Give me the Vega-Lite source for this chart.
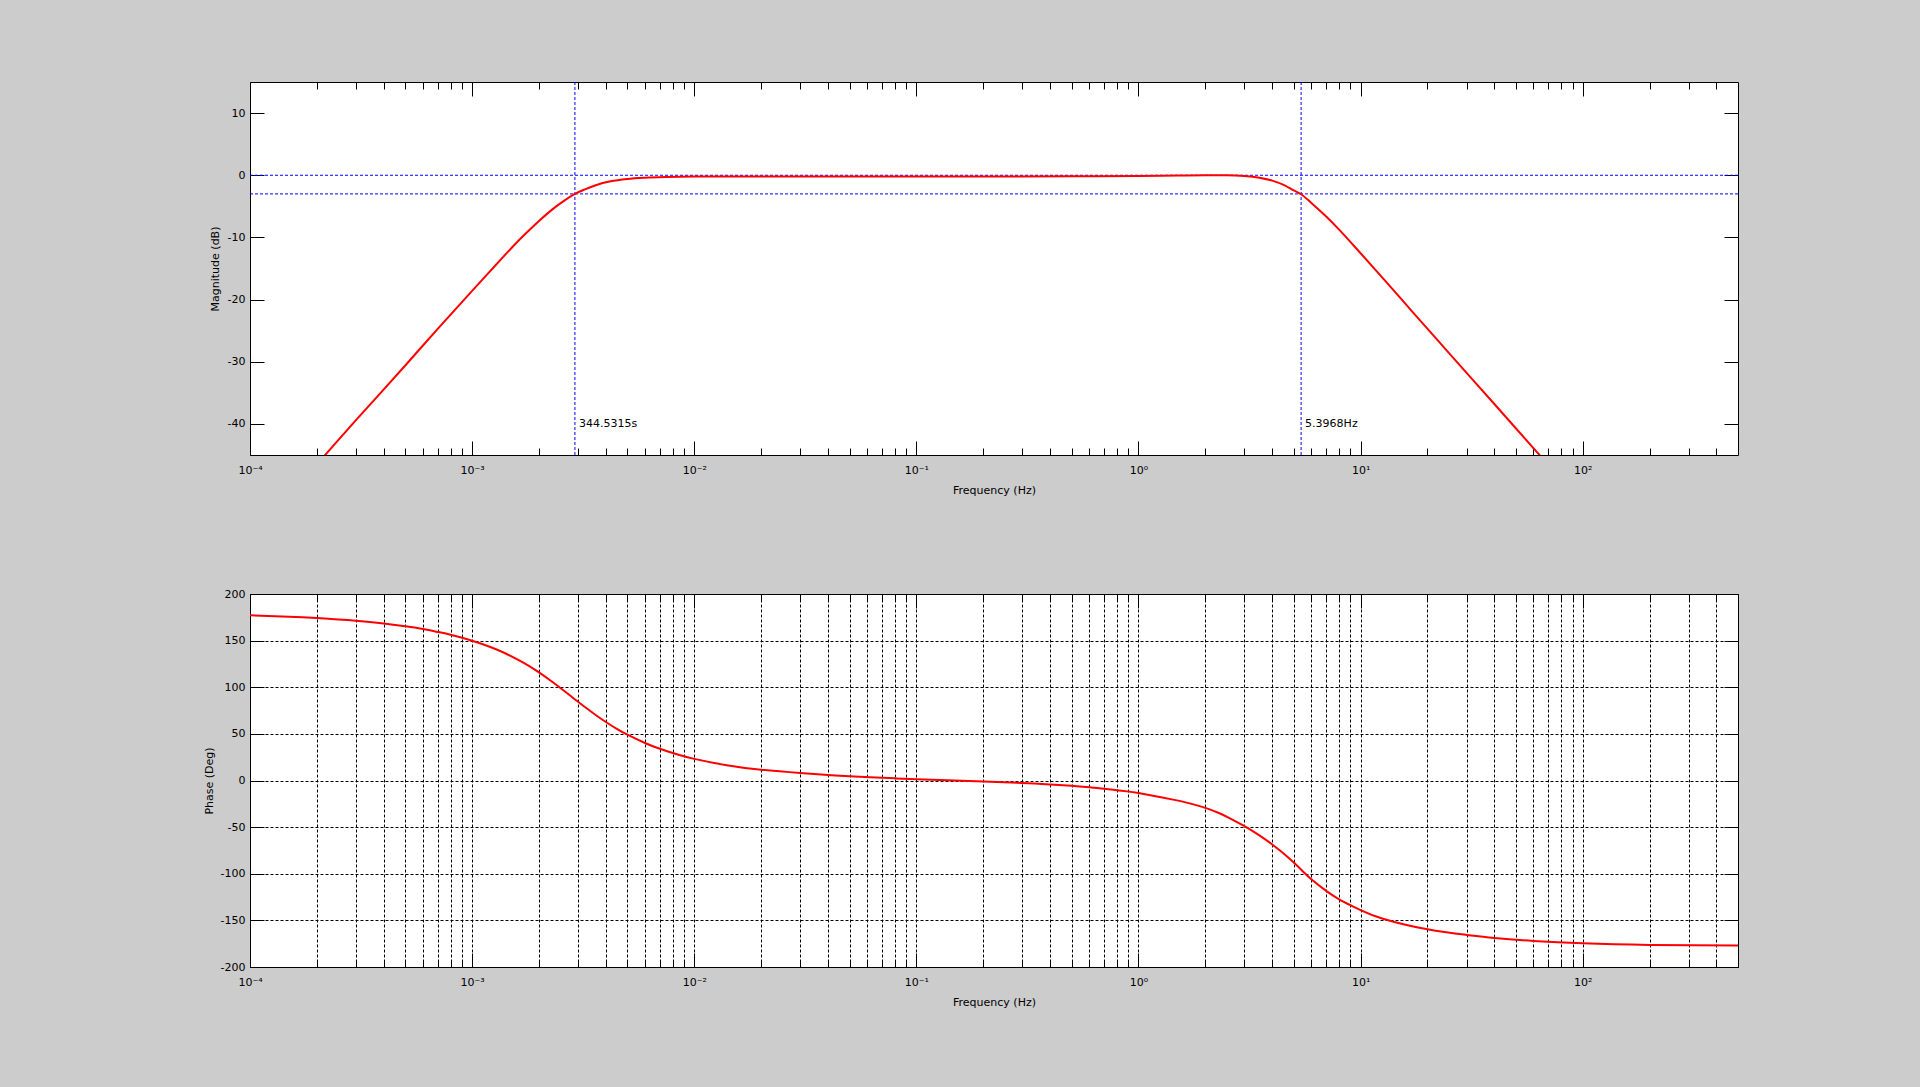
{
  "$schema": "https://vega.github.io/schema/vega-lite/v6.json",
  "background": "#cccccc",
  "padding": {"left": 202, "top": 81, "right": 182, "bottom": 82},
  "datasets": {
    "mag": [
      {"f": 0.0001, "db": -58.5}, {"f": 0.0002, "db": -46.5}, {"f": 0.0003, "db": -39.4},
      {"f": 0.0005, "db": -30.6}, {"f": 0.0007, "db": -24.7}, {"f": 0.001, "db": -18.6},
      {"f": 0.0012, "db": -15.5}, {"f": 0.0014, "db": -12.9}, {"f": 0.0016, "db": -10.7},
      {"f": 0.0018, "db": -8.9}, {"f": 0.002, "db": -7.35}, {"f": 0.0022, "db": -6.05},
      {"f": 0.0024, "db": -4.97}, {"f": 0.0026, "db": -4.07}, {"f": 0.0029025, "db": -3.0},
      {"f": 0.0032, "db": -2.3}, {"f": 0.0036, "db": -1.6}, {"f": 0.0042, "db": -0.98},
      {"f": 0.005, "db": -0.6}, {"f": 0.006, "db": -0.4}, {"f": 0.0075, "db": -0.28},
      {"f": 0.01, "db": -0.22}, {"f": 0.1, "db": -0.2}, {"f": 0.5, "db": -0.18},
      {"f": 1.0, "db": -0.13}, {"f": 1.5, "db": -0.05}, {"f": 2.0, "db": 0.0},
      {"f": 2.5, "db": 0.0}, {"f": 3.0, "db": -0.11}, {"f": 3.5, "db": -0.39},
      {"f": 4.0, "db": -0.87}, {"f": 4.5, "db": -1.56}, {"f": 5.0, "db": -2.43},
      {"f": 5.3968, "db": -3.05}, {"f": 6.0, "db": -4.45}, {"f": 7.0, "db": -6.65},
      {"f": 8.0, "db": -8.75}, {"f": 10, "db": -12.55}, {"f": 13, "db": -17.1},
      {"f": 17, "db": -21.85}, {"f": 25, "db": -28.6}, {"f": 40, "db": -36.8},
      {"f": 65, "db": -45.3}, {"f": 100, "db": -52.8}, {"f": 500, "db": -80.8}
    ],
    "phase": [
      {"f": 0.0001, "deg": 177.1}, {"f": 0.00015, "deg": 175.7}, {"f": 0.0002, "deg": 174.2},
      {"f": 0.0003, "deg": 171.3}, {"f": 0.0004, "deg": 168.35}, {"f": 0.0005, "deg": 165.4},
      {"f": 0.0006, "deg": 162.4}, {"f": 0.0007, "deg": 159.3}, {"f": 0.0008, "deg": 156.25},
      {"f": 0.001, "deg": 149.9}, {"f": 0.0012, "deg": 143.4}, {"f": 0.0014, "deg": 136.7},
      {"f": 0.0017, "deg": 126.3}, {"f": 0.002, "deg": 115.9}, {"f": 0.0023, "deg": 105.6},
      {"f": 0.0026, "deg": 96.0}, {"f": 0.0028, "deg": 90}, {"f": 0.003, "deg": 84.4},
      {"f": 0.0033, "deg": 76.9}, {"f": 0.0036, "deg": 70.2}, {"f": 0.004, "deg": 62.7},
      {"f": 0.0045, "deg": 55.1}, {"f": 0.005, "deg": 49.1}, {"f": 0.006, "deg": 40.2},
      {"f": 0.007, "deg": 34.0}, {"f": 0.0085, "deg": 27.6}, {"f": 0.01, "deg": 23.2},
      {"f": 0.014, "deg": 16.4}, {"f": 0.02, "deg": 11.5}, {"f": 0.03, "deg": 8.0},
      {"f": 0.04, "deg": 6.0}, {"f": 0.05, "deg": 4.6}, {"f": 0.08, "deg": 2.3},
      {"f": 0.1, "deg": 1.4}, {"f": 0.2, "deg": -1.1}, {"f": 0.3, "deg": -2.6},
      {"f": 0.4, "deg": -4.2}, {"f": 0.5, "deg": -5.7}, {"f": 0.6, "deg": -7.3},
      {"f": 0.7, "deg": -8.9}, {"f": 0.8, "deg": -10.5}, {"f": 1.0, "deg": -13.4},
      {"f": 1.43, "deg": -20.5}, {"f": 1.7, "deg": -24.5}, {"f": 2, "deg": -29.4},
      {"f": 2.3, "deg": -34.9}, {"f": 2.58, "deg": -40.5}, {"f": 3, "deg": -49.0},
      {"f": 3.5, "deg": -58.9}, {"f": 4, "deg": -68.6}, {"f": 4.5, "deg": -78.3},
      {"f": 5, "deg": -88.0}, {"f": 5.5, "deg": -97.5}, {"f": 6, "deg": -106.0},
      {"f": 7, "deg": -118.4}, {"f": 8, "deg": -127.4}, {"f": 9, "deg": -133.7},
      {"f": 10, "deg": -139}, {"f": 12.6, "deg": -148.2}, {"f": 20, "deg": -159.6},
      {"f": 30, "deg": -165.6}, {"f": 40, "deg": -168.8}, {"f": 60, "deg": -172},
      {"f": 100, "deg": -174.6}, {"f": 200, "deg": -176.3}, {"f": 500, "deg": -177}
    ],
    "hlines": [{"db": 0}, {"db": -3}],
    "vlines": [{"f": 0.0029025}, {"f": 5.3968}],
    "notes": [
      {"f": 0.0029025, "db": -40, "label": "344.5315s"},
      {"f": 5.3968, "db": -40, "label": "5.3968Hz"}
    ]
  },
  "vconcat": [
    {
      "width": 1488,
      "height": 373,
      "layer": [
        {
          "data": {"name": "hlines"},
          "mark": {"type": "rule", "color": "#0000ff", "strokeWidth": 1, "strokeDash": [3, 2]},
          "encoding": {
            "y": {"field": "db", "type": "quantitative", "scale": {"domain": [-45, 15], "nice": false, "zero": false}, "axis": null}
          }
        },
        {
          "data": {"name": "vlines"},
          "mark": {"type": "rule", "color": "#0000ff", "strokeWidth": 1, "strokeDash": [3, 2]},
          "encoding": {
            "x": {"field": "f", "type": "quantitative", "scale": {"type": "log", "domain": [0.0001, 500], "nice": false}, "axis": null}
          }
        },
        {
          "data": {"name": "mag"},
          "mark": {"type": "line", "color": "#ff0000", "strokeWidth": 2, "clip": true, "interpolate": "monotone"},
          "encoding": {
            "x": {
              "field": "f", "type": "quantitative",
              "scale": {"type": "log", "domain": [0.0001, 500], "nice": false},
              "axis": {
                "orient": "bottom", "title": "Frequency (Hz)",
                "values": [0.0001,0.0002,0.0003,0.0004,0.0005,0.0006,0.0007,0.0008,0.0009,0.001,0.002,0.003,0.004,0.005,0.006,0.007,0.008,0.009,0.01,0.02,0.03,0.04,0.05,0.06,0.07,0.08,0.09,0.1,0.2,0.3,0.4,0.5,0.6,0.7,0.8,0.9,1,2,3,4,5,6,7,8,9,10,20,30,40,50,60,70,80,90,100,200,300,400],
                "labelExpr": "abs(log(datum.value)/LN10 - round(log(datum.value)/LN10)) < 0.001 ? '10' + ['⁻⁴','⁻³','⁻²','⁻¹','⁰','¹','²'][round(log(datum.value)/LN10) + 4] : ''",
                "tickSize": {"condition": {"test": "abs(log(datum.value)/LN10 - round(log(datum.value)/LN10)) < 0.001", "value": -14}, "value": -7},
                "labelPadding": 23, "titlePadding": 2
              }
            },
            "y": {
              "field": "db", "type": "quantitative",
              "scale": {"domain": [-45, 15], "nice": false, "zero": false},
              "axis": {"orient": "left", "title": "Magnitude (dB)", "values": [-40, -30, -20, -10, 0, 10], "labelExpr": "'' + datum.value", "tickSize": -14, "labelPadding": 19, "titlePadding": 7}
            }
          }
        },
        {
          "data": {"name": "notes"},
          "mark": {"type": "text", "align": "left", "baseline": "middle", "dx": 4, "font": "DejaVu Sans", "fontSize": 11, "color": "black"},
          "encoding": {
            "x": {
              "field": "f", "type": "quantitative",
              "scale": {"type": "log", "domain": [0.0001, 500], "nice": false},
              "axis": {
                "orient": "top", "title": null, "labels": false,
                "values": [0.0001,0.0002,0.0003,0.0004,0.0005,0.0006,0.0007,0.0008,0.0009,0.001,0.002,0.003,0.004,0.005,0.006,0.007,0.008,0.009,0.01,0.02,0.03,0.04,0.05,0.06,0.07,0.08,0.09,0.1,0.2,0.3,0.4,0.5,0.6,0.7,0.8,0.9,1,2,3,4,5,6,7,8,9,10,20,30,40,50,60,70,80,90,100,200,300,400],
                "tickSize": {"condition": {"test": "abs(log(datum.value)/LN10 - round(log(datum.value)/LN10)) < 0.001", "value": -14}, "value": -7}
              }
            },
            "y": {
              "field": "db", "type": "quantitative",
              "scale": {"domain": [-45, 15], "nice": false, "zero": false},
              "axis": {"orient": "right", "title": null, "labels": false, "values": [-40, -30, -20, -10, 0, 10], "tickSize": -14}
            },
            "text": {"field": "label"}
          }
        }
      ],
      "resolve": {"axis": {"x": "independent", "y": "independent"}}
    },
    {
      "width": 1488,
      "height": 373,
      "data": {"name": "phase"},
      "layer": [
        {
          "mark": {"type": "line", "strokeOpacity": 0},
          "encoding": {
            "x": {
              "field": "f", "type": "quantitative",
              "scale": {"type": "log", "domain": [0.0001, 500], "nice": false},
              "axis": {
                "orient": "top", "title": null, "labels": false,
                "values": [0.0001,0.0002,0.0003,0.0004,0.0005,0.0006,0.0007,0.0008,0.0009,0.001,0.002,0.003,0.004,0.005,0.006,0.007,0.008,0.009,0.01,0.02,0.03,0.04,0.05,0.06,0.07,0.08,0.09,0.1,0.2,0.3,0.4,0.5,0.6,0.7,0.8,0.9,1,2,3,4,5,6,7,8,9,10,20,30,40,50,60,70,80,90,100,200,300,400],
                "tickSize": {"condition": {"test": "abs(log(datum.value)/LN10 - round(log(datum.value)/LN10)) < 0.001", "value": -14}, "value": -7}
              }
            },
            "y": {
              "field": "deg", "type": "quantitative",
              "scale": {"domain": [-200, 200], "nice": false, "zero": false},
              "axis": {"orient": "right", "title": null, "labels": false, "values": [-200, -150, -100, -50, 0, 50, 100, 150, 200], "tickSize": -14}
            }
          }
        },
        {
          "mark": {"type": "line", "color": "#ff0000", "strokeWidth": 2, "clip": true, "interpolate": "natural"},
          "encoding": {
            "x": {
              "field": "f", "type": "quantitative",
              "scale": {"type": "log", "domain": [0.0001, 500], "nice": false},
              "axis": {
                "orient": "bottom", "title": "Frequency (Hz)",
                "values": [0.0001,0.0002,0.0003,0.0004,0.0005,0.0006,0.0007,0.0008,0.0009,0.001,0.002,0.003,0.004,0.005,0.006,0.007,0.008,0.009,0.01,0.02,0.03,0.04,0.05,0.06,0.07,0.08,0.09,0.1,0.2,0.3,0.4,0.5,0.6,0.7,0.8,0.9,1,2,3,4,5,6,7,8,9,10,20,30,40,50,60,70,80,90,100,200,300,400],
                "labelExpr": "abs(log(datum.value)/LN10 - round(log(datum.value)/LN10)) < 0.001 ? '10' + ['⁻⁴','⁻³','⁻²','⁻¹','⁰','¹','²'][round(log(datum.value)/LN10) + 4] : ''",
                "tickSize": {"condition": {"test": "abs(log(datum.value)/LN10 - round(log(datum.value)/LN10)) < 0.001", "value": -14}, "value": -7},
                "grid": true, "gridColor": "black", "gridDash": [3, 2], "gridWidth": 1, "gridOpacity": 1,
                "labelPadding": 23, "titlePadding": 2
              }
            },
            "y": {
              "field": "deg", "type": "quantitative",
              "scale": {"domain": [-200, 200], "nice": false, "zero": false},
              "axis": {
                "orient": "left", "title": "Phase (Deg)",
                "values": [-200, -150, -100, -50, 0, 50, 100, 150, 200], "labelExpr": "'' + datum.value", "tickSize": -14,
                "grid": true, "gridColor": "black", "gridDash": [3, 2], "gridWidth": 1, "gridOpacity": 1,
                "labelPadding": 19, "titlePadding": 6
              }
            }
          }
        }
      ],
      "resolve": {"axis": {"x": "independent", "y": "independent"}}
    }
  ],
  "spacing": 139,
  "bounds": "flush",
  "config": {
    "view": {"stroke": "black", "strokeWidth": 1, "fill": "white"},
    "axis": {
      "domain": false, "grid": false,
      "labelFont": "DejaVu Sans", "labelFontSize": 11, "labelColor": "black",
      "titleFont": "DejaVu Sans", "titleFontSize": 11, "titleFontWeight": "normal", "titleColor": "black",
      "tickColor": "black", "tickWidth": 1,
      "labelFlush": false, "labelOverlap": false, "labelBound": false
    }
  }
}
